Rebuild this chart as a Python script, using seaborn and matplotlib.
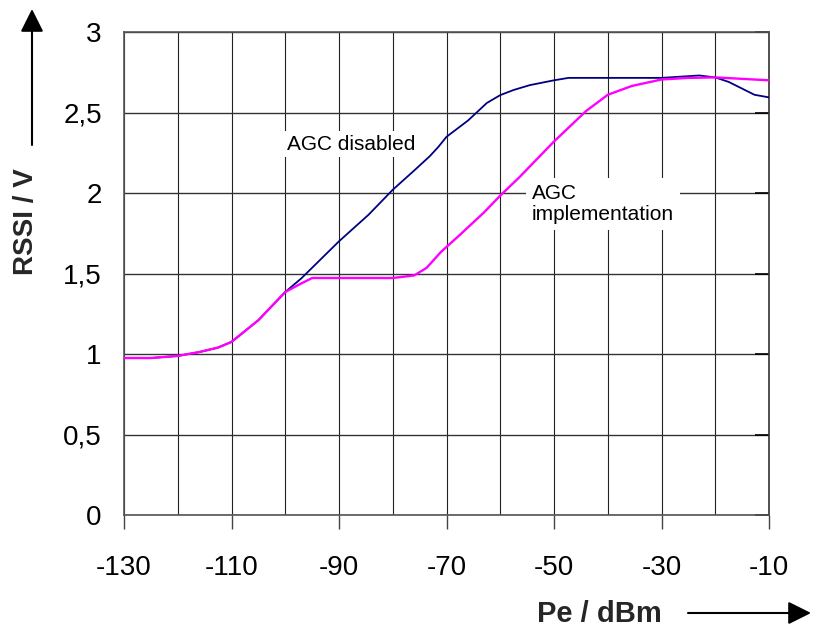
import matplotlib
matplotlib.use("Agg")
import matplotlib.pyplot as plt
from matplotlib.patches import FancyArrowPatch
from matplotlib.ticker import MultipleLocator, FixedLocator
import seaborn as sns
import pandas as pd

# ---- data ----
agc_disabled_x = [-130, -125, -120, -116, -112.5, -110, -105, -100, -97, -90, -84.5, -80,
                  -76, -73.1, -71.5, -70, -66, -62.5, -60, -57.5, -54.5, -50, -47.3,
                  -30, -23, -20, -17.5, -12.7, -10]
agc_disabled_y = [0.975, 0.975, 0.988, 1.012, 1.04, 1.075, 1.21, 1.385, 1.47, 1.70, 1.865, 2.02,
                  2.14, 2.229, 2.287, 2.349, 2.45, 2.559, 2.608, 2.64, 2.67, 2.70, 2.715,
                  2.715, 2.73, 2.718, 2.69, 2.61, 2.594]

agc_impl_x = [-130, -125, -120, -116, -112.5, -110, -105, -100, -97.5, -95, -80, -76, -73.7,
              -71, -68, -63, -60, -56.5, -50, -44, -40, -35.5, -30, -25, -20, -10]
agc_impl_y = [0.975, 0.975, 0.988, 1.012, 1.04, 1.075, 1.21, 1.385, 1.43, 1.472, 1.472, 1.488, 1.535,
              1.635, 1.725, 1.88, 1.984, 2.096, 2.32, 2.51, 2.61, 2.665, 2.705, 2.715, 2.718, 2.70]

x_ticks = [-130, -110, -90, -70, -50, -30, -10]
y_ticks = [0, 0.5, 1, 1.5, 2, 2.5, 3]
y_tick_labels = ["0", "0,5", "1", "1,5", "2", "2,5", "3"]

label_disabled = "AGC disabled"
label_impl = "AGC\nimplementation"
x_label = "Pe / dBm"
y_label = "RSSI / V"

# ---- figure ----
sns.set_theme(style="white")
plt.rcParams["font.family"] = ["Liberation Sans", "DejaVu Sans"]

W, H = 814, 631
fig = plt.figure(figsize=(W / 100, H / 100), dpi=100)
ax = fig.add_axes([124 / W, 1 - 515 / H, (769 - 124) / W, (515 - 32) / H])

df_dis = pd.DataFrame({"x": agc_disabled_x, "y": agc_disabled_y})
df_imp = pd.DataFrame({"x": agc_impl_x, "y": agc_impl_y})
sns.lineplot(data=df_dis, x="x", y="y", color="#000080", lw=1.3, ax=ax,
             sort=False, estimator=None, zorder=3)
sns.lineplot(data=df_imp, x="x", y="y", color="#FF00FF", lw=1.7, ax=ax,
             sort=False, estimator=None, zorder=4)

ax.set_xlim(-130, -10)
ax.set_ylim(0, 3)
ax.xaxis.set_major_locator(FixedLocator(x_ticks))
ax.xaxis.set_minor_locator(MultipleLocator(10))
ax.set_xticklabels([str(v) for v in x_ticks])
ax.set_yticks(y_ticks)
ax.set_yticklabels(y_tick_labels)

ax.grid(True, which="major", axis="y", color="#333333", lw=1.0)
ax.grid(True, which="both", axis="x", color="#222222", lw=0.8)
ax.set_axisbelow(True)

ax.tick_params(axis="x", which="major", direction="out", length=10, width=1,
               color="#444444", bottom=True, labelsize=20, pad=19, labelcolor="black")
ax.tick_params(axis="x", which="minor", length=0)
ax.tick_params(axis="y", which="major", left=False, right=True, direction="in",
               length=10, width=1.2, color="black", labelsize=20, pad=16,
               labelcolor="black")

for side, sp in ax.spines.items():
    sp.set_visible(True)
    sp.set_color("#555555")
    sp.set_linewidth(1.2)
ax.spines["right"].set_color("#333333")

ax.set_xlabel("")
ax.set_ylabel("")

# ---- annotations ----
ax.text(-99.6, 2.304, label_disabled, ha="left", va="center", fontsize=15,
        color="black", zorder=5,
        bbox=dict(boxstyle="square,pad=0.15", fc="white", ec="none"))
ax.text(-54.1, 1.932, label_impl, ha="left", va="center", fontsize=15,
        color="black", linespacing=1.15, zorder=5,
        bbox=dict(boxstyle="square,pad=0.3", fc="white", ec="none"))

# ---- axis labels with arrows ----
fig.text(599 / W, 1 - 614 / H, x_label, ha="center", va="center",
         fontsize=21, fontweight="bold")
fig.text(26 / W, 1 - 222 / H, y_label, ha="center", va="center",
         fontsize=20, fontweight="bold", rotation=90)

arr_x = FancyArrowPatch((688 / W, 1 - 613 / H), (811 / W, 1 - 613 / H),
                        transform=fig.transFigure,
                        arrowstyle="-|>,head_length=14,head_width=7",
                        mutation_scale=1, lw=1.5, color="black",
                        shrinkA=0, shrinkB=0)
arr_y = FancyArrowPatch((32 / W, 1 - 145 / H), (32 / W, 1 - 9 / H),
                        transform=fig.transFigure,
                        arrowstyle="-|>,head_length=14,head_width=7",
                        mutation_scale=1, lw=1.5, color="black",
                        shrinkA=0, shrinkB=0)
fig.add_artist(arr_x)
fig.add_artist(arr_y)

fig.savefig("out.png", dpi=100)
